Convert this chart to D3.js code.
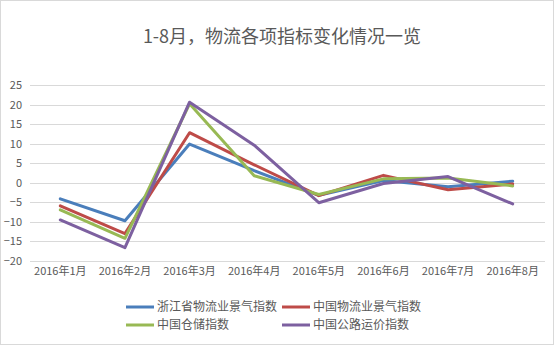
<!DOCTYPE html>
<html><head><meta charset="utf-8">
<script src="https://cdn.jsdelivr.net/npm/d3@7"></script>
<style>body{margin:0;background:#fff}svg{display:block}</style>
</head><body>
<script>
const categories = ["2016年1月","2016年2月","2016年3月","2016年4月","2016年5月","2016年6月","2016年7月","2016年8月"];
const zhejiang = [-4.1, -9.7, 9.9, 3.1, -3.2, 0.6, -1.0, 0.4];
const china = [-5.9, -13.0, 12.8, 4.6, -3.3, 1.9, -1.8, -0.3];
const storage = [-6.9, -14.2, 20.2, 1.8, -3.0, 1.0, 1.2, -0.8];
const road = [-9.5, -16.6, 20.6, 9.6, -5.1, -0.2, 1.6, -5.4];
const seriesNames = ["浙江省物流业景气指数","中国物流业景气指数","中国仓储指数","中国公路运价指数"];
const yTicks = [-20,-15,-10,-5,0,5,10,15,20,25];

const W=555,H=346;
const colors=["#4a7ebb","#be4b48","#98b954","#7d60a0"];
const seriesData=[zhejiang,china,storage,road];
const font='"Microsoft YaHei","Noto Sans CJK SC",sans-serif';

const svg=d3.select("body").append("svg").attr("width",W).attr("height",H);
svg.append("rect").attr("x",0.5).attr("y",0.5).attr("width",W-2).attr("height",H-2)
  .attr("fill","#fff").attr("stroke","#d9d9d9").attr("stroke-width",1);

svg.append("text").attr("x",282).attr("y",37).attr("dy","0.35em").attr("text-anchor","middle")
  .attr("font-family",font).attr("font-size",18).attr("fill","#595959").text("1-8月，物流各项指标变化情况一览");

const x=d3.scaleBand().domain(categories).range([28,545]);
const y=d3.scaleLinear().domain([-20,25]).range([261,85]);

const g=svg.append("g");
g.selectAll("line.grid").data(yTicks).join("line").attr("class","grid")
  .attr("x1",30).attr("x2",545).attr("y1",d=>Math.round(y(d))+0.5).attr("y2",d=>Math.round(y(d))+0.5)
  .attr("stroke","#d9d9d9").attr("stroke-width",1);

const yAxis=svg.append("g").attr("transform","translate(22,0)")
  .call(d3.axisLeft(y).tickValues(yTicks).tickSize(0).tickPadding(0));
yAxis.select(".domain").remove();
yAxis.selectAll("text").attr("font-family",font).attr("font-size",11).attr("fill","#595959");

const xAxis=svg.append("g").attr("transform","translate(0,267)")
  .call(d3.axisBottom(x).tickSize(0).tickPadding(0));
xAxis.select(".domain").remove();
xAxis.selectAll("text").attr("font-family",font).attr("font-size",11).attr("fill","#595959").attr("dy","0.71em");

const line=d3.line().x((d,i)=>x(categories[i])+x.bandwidth()/2).y(d=>y(d));
seriesData.forEach((s,k)=>{
  svg.append("path").datum(s).attr("d",line).attr("fill","none")
    .attr("stroke",colors[k]).attr("stroke-width",3).attr("stroke-linejoin","round").attr("stroke-linecap","round");
});

const legPos=[[126,307],[282,307],[126,325],[282,325]];
seriesNames.forEach((n,k)=>{
  const [lx,ly]=legPos[k];
  svg.append("line").attr("x1",lx).attr("x2",lx+28).attr("y1",ly).attr("y2",ly)
    .attr("stroke",colors[k]).attr("stroke-width",3);
  svg.append("text").attr("x",lx+31).attr("y",ly).attr("dy","0.35em")
    .attr("font-family",font).attr("font-size",12).attr("fill","#595959").text(n);
});
</script>
</body></html>
